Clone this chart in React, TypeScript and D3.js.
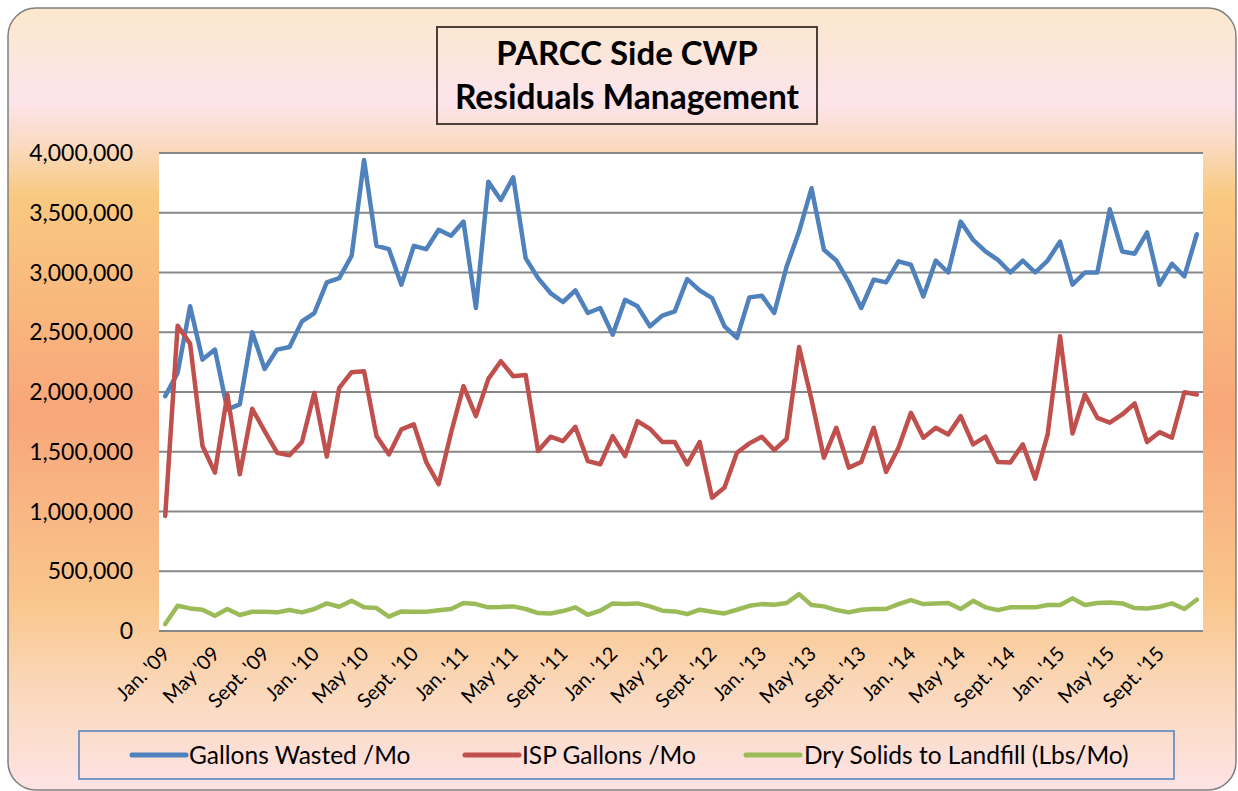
import React from "react";
import * as d3 from "d3";

const months: string[] = [
  "2009-01","2009-02","2009-03","2009-04","2009-05","2009-06","2009-07","2009-08","2009-09","2009-10","2009-11","2009-12",
  "2010-01","2010-02","2010-03","2010-04","2010-05","2010-06","2010-07","2010-08","2010-09","2010-10","2010-11","2010-12",
  "2011-01","2011-02","2011-03","2011-04","2011-05","2011-06","2011-07","2011-08","2011-09","2011-10","2011-11","2011-12",
  "2012-01","2012-02","2012-03","2012-04","2012-05","2012-06","2012-07","2012-08","2012-09","2012-10","2012-11","2012-12",
  "2013-01","2013-02","2013-03","2013-04","2013-05","2013-06","2013-07","2013-08","2013-09","2013-10","2013-11","2013-12",
  "2014-01","2014-02","2014-03","2014-04","2014-05","2014-06","2014-07","2014-08","2014-09","2014-10","2014-11","2014-12",
  "2015-01","2015-02","2015-03","2015-04","2015-05","2015-06","2015-07","2015-08","2015-09","2015-10","2015-11","2015-12",
];

const tickMonths: string[] = [
  "2009-01","2009-05","2009-09","2010-01","2010-05","2010-09","2011-01","2011-05","2011-09",
  "2012-01","2012-05","2012-09","2013-01","2013-05","2013-09","2014-01","2014-05","2014-09",
  "2015-01","2015-05","2015-09",
];
const tickLabels: string[] = [
  "Jan. '09","May '09","Sept. '09","Jan. '10","May '10","Sept. '10","Jan. '11","May '11","Sept. '11",
  "Jan. '12","May '12","Sept. '12","Jan. '13","May '13","Sept. '13","Jan. '14","May '14","Sept. '14",
  "Jan. '15","May '15","Sept. '15",
];

const gallonsWasted: number[] = [
  1965000, 2160000, 2717000, 2271000, 2355000, 1854000, 1896000, 2500000, 2193000, 2355000, 2377000, 2591000,
  2661000, 2917000, 2953000, 3140000, 3941000, 3223000, 3195000, 2898000, 3223000, 3195000, 3357000, 3307000,
  3426000, 2703000, 3760000, 3607000, 3797000, 3120000, 2953000, 2828000, 2753000, 2850000, 2661000, 2703000,
  2480000, 2772000, 2717000, 2550000, 2639000, 2675000, 2945000, 2850000, 2786000, 2550000, 2452000, 2792000,
  2806000, 2661000, 3050000, 3343000, 3705000, 3190000, 3100000, 2920000, 2703000, 2940000, 2917000, 3093000,
  3065000, 2800000, 3100000, 3000000, 3426000, 3273000, 3176000, 3106000, 3000000, 3100000, 3000000, 3100000,
  3259000, 2898000, 3000000, 3000000, 3529000, 3176000, 3157000, 3335000, 2898000, 3073000, 2967000, 3320000,
];

const ispGallons: number[] = [
  963000, 2555000, 2405000, 1548000, 1325000, 1979000, 1311000, 1860000, 1673000, 1492000, 1470000, 1581000,
  1993000, 1459000, 2035000, 2166000, 2174000, 1631000, 1478000, 1687000, 1729000, 1414000, 1228000, 1659000,
  2049000, 1798000, 2110000, 2258000, 2132000, 2143000, 1506000, 1626000, 1589000, 1709000, 1422000, 1395000,
  1631000, 1464000, 1756000, 1692000, 1581000, 1581000, 1395000, 1581000, 1116000, 1200000, 1492000, 1570000,
  1626000, 1514000, 1609000, 2377000, 1937000, 1450000, 1701000, 1367000, 1414000, 1701000, 1331000, 1534000,
  1826000, 1617000, 1701000, 1645000, 1798000, 1562000, 1626000, 1414000, 1410000, 1562000, 1275000, 1645000,
  2466000, 1653000, 1979000, 1784000, 1743000, 1812000, 1904000, 1581000, 1664000, 1617000, 1998000, 1979000,
];

const drySolids: number[] = [
  58000, 211000, 189000, 178000, 128000, 184000, 134000, 161000, 161000, 156000, 175000, 156000,
  184000, 231000, 203000, 253000, 198000, 192000, 120000, 164000, 161000, 161000, 173000, 184000,
  234000, 225000, 198000, 200000, 206000, 184000, 150000, 147000, 167000, 198000, 136000, 170000,
  231000, 225000, 231000, 206000, 170000, 164000, 142000, 178000, 161000, 147000, 178000, 211000,
  225000, 220000, 234000, 309000, 217000, 206000, 175000, 156000, 178000, 184000, 184000, 225000,
  259000, 225000, 231000, 234000, 184000, 253000, 198000, 175000, 198000, 198000, 198000, 217000,
  217000, 273000, 217000, 234000, 239000, 231000, 192000, 189000, 203000, 231000, 184000, 262000,
];

const seriesNames: string[] = ["Gallons Wasted /Mo", "ISP Gallons /Mo", "Dry Solids to Landfill (Lbs/Mo)"];
const seriesColors: string[] = ["#4F81BD", "#C0504D", "#9BBB59"];
const yTicks: number[] = [0, 500000, 1000000, 1500000, 2000000, 2500000, 3000000, 3500000, 4000000];

const W = 1238;
const H = 791;
const plot = { left: 159, right: 1203, top: 153, bottom: 631 };
const FONT = "Lato, 'Open Sans', sans-serif";

export default function App() {
  const x = d3.scalePoint<string>().domain(months).range([plot.left, plot.right]).padding(0.5);
  const y = d3.scaleLinear().domain([0, 4000000]).range([plot.bottom, plot.top]);
  const line = d3
    .line<number>()
    .x((_, i) => x(months[i]) as number)
    .y((d) => y(d));
  const allSeries = [gallonsWasted, ispGallons, drySolids];
  const fmt = d3.format(",");

  const legendItems = [
    { lx: 132, tx: 189 },
    { lx: 465, tx: 522 },
    { lx: 746, tx: 804 },
  ];

  return (
    <svg width={W} height={H} style={{ position: "absolute", left: 0, top: 0 }}>
      <defs>
        <linearGradient id="bg" x1="0" y1="0" x2="0" y2="1">
          <stop offset="0" stopColor="#FBE8CC" />
          <stop offset="0.12" stopColor="#FCE4EB" />
          <stop offset="0.18" stopColor="#FAD9BC" />
          <stop offset="0.24" stopColor="#F9C980" />
          <stop offset="0.52" stopColor="#F8A67A" />
          <stop offset="0.76" stopColor="#F9C68D" />
          <stop offset="0.88" stopColor="#FBD9BE" />
          <stop offset="1" stopColor="#FDE3E4" />
        </linearGradient>
      </defs>
      <rect x={0} y={0} width={W} height={H} fill="#ffffff" />
      <rect x={8} y={8} width={1228} height={782} rx={28} ry={28} fill="url(#bg)" stroke="#7f7f7f" strokeWidth={1.5} />

      {/* Title */}
      <rect x={437} y={27} width={380} height={97} fill="none" stroke="#4a4038" strokeWidth={2} />
      <text x={627} y={65} textAnchor="middle" fontFamily={FONT} fontWeight="bold" fontSize={33} fill="#000">
        PARCC Side CWP
      </text>
      <text x={627} y={109} textAnchor="middle" fontFamily={FONT} fontWeight="bold" fontSize={33.5} fill="#000">
        Residuals Management
      </text>

      {/* Plot area */}
      <rect x={plot.left} y={plot.top} width={plot.right - plot.left} height={plot.bottom - plot.top} fill="#ffffff" />
      {yTicks.map((t) => (
        <line key={t} x1={plot.left} x2={plot.right} y1={y(t)} y2={y(t)} stroke="#878787" strokeWidth={2} />
      ))}
      {yTicks.map((t) => (
        <text key={"l" + t} x={133} y={y(t)} dy="0.35em" textAnchor="end" fontFamily={FONT} fontSize={23} fill="#000">
          {fmt(t)}
        </text>
      ))}

      {tickMonths.map((m, i) => {
        const px = (x(m) as number) + 6;
        const py = 655;
        return (
          <text
            key={m}
            x={px}
            y={py}
            textAnchor="end"
            transform={`rotate(-45 ${px} ${py})`}
            fontFamily={FONT}
            fontSize={20}
            fill="#000"
          >
            {tickLabels[i]}
          </text>
        );
      })}

      {allSeries.map((s, k) => (
        <path
          key={k}
          d={line(s) || ""}
          fill="none"
          stroke={seriesColors[k]}
          strokeWidth={4.5}
          strokeLinejoin="round"
          strokeLinecap="round"
        />
      ))}

      {/* Legend */}
      <rect x={79} y={731} width={1095} height={48} fill="none" stroke="#4F81BD" strokeWidth={1.5} />
      {legendItems.map((it, k) => (
        <g key={k}>
          <line x1={it.lx} x2={it.lx + 54} y1={755} y2={755} stroke={seriesColors[k]} strokeWidth={5} strokeLinecap="round" />
          <text x={it.tx} y={755} dy="0.35em" fontFamily={FONT} fontSize={24.5} fill="#000">
            {seriesNames[k]}
          </text>
        </g>
      ))}
    </svg>
  );
}
